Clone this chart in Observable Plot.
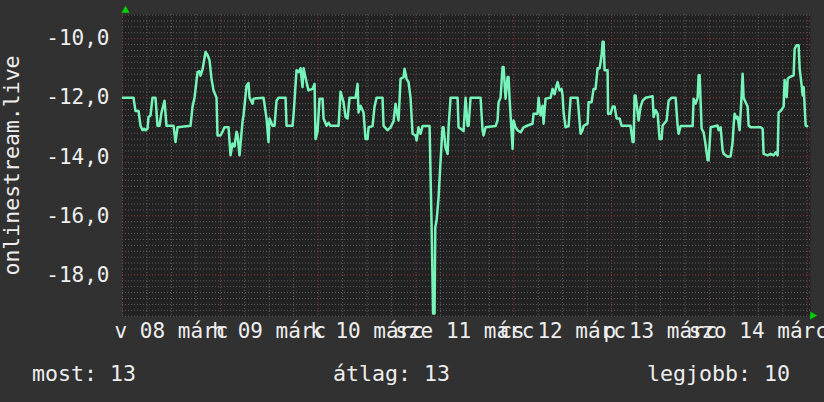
<!DOCTYPE html>
<html>
<head>
<meta charset="utf-8">
<script src="https://cdn.jsdelivr.net/npm/d3@7"></script>
<script src="https://cdn.jsdelivr.net/npm/@observablehq/plot@0.6"></script>
<style>
  html, body { margin: 0; padding: 0; background: #313131; }
  #wrap { width: 824px; height: 402px; overflow: hidden; position: relative; }
  #legend { position: relative; height: 50px; font: 21.6px "DejaVu Sans Mono", monospace; color: #eeeeee; }
  #legend span { position: absolute; top: 11px; line-height: 21px; white-space: pre; }
</style>
</head>
<body>
<div id="wrap"><div id="chart"></div><div id="legend"></div></div>
<script>
// hours since v 08 márc 00:00
const hours = [0.1,2.70,3.19,3.93,4.42,4.91,5.40,5.64,6.14,6.38,6.87,7.36,8.10,8.59,9.08,9.57,10.31,10.80,12.52,13.01,13.50,16.69,17.18,17.67,18.41,18.90,19.14,19.63,20.37,20.86,21.35,21.84,22.33,23.07,23.31,24.05,24.54,25.03,26.01,26.50,26.99,27.48,27.98,28.22,28.71,29.45,29.69,30.43,30.92,31.17,31.90,32.15,34.60,35.34,35.83,36.07,36.81,37.30,37.79,38.28,40.00,40.25,41.72,41.96,42.70,43.19,43.68,44.17,44.42,45.15,45.64,46.63,47.12,47.36,47.85,48.34,49.08,49.33,50.06,50.55,51.04,53.01,53.50,54.23,54.72,55.21,55.71,57.18,57.67,57.91,58.41,59.14,59.63,60.12,60.37,61.35,61.84,62.33,63.80,64.05,65.03,65.77,66.50,66.99,67.48,67.73,68.22,68.96,69.20,69.69,70.18,70.67,71.17,71.90,72.15,72.64,73.13,73.62,75.34,75.83,76.20,76.56,76.74,77.06,77.55,78.04,78.53,78.77,79.26,79.76,80.00,80.49,82.21,82.45,83.44,83.68,84.17,84.66,84.91,85.40,87.85,88.34,88.59,89.08,91.53,92.02,92.27,92.76,93.25,93.50,93.99,94.48,94.72,94.97,95.71,95.95,96.44,96.93,97.67,98.41,99.39,100.61,100.86,101.84,102.09,102.58,103.07,103.31,103.80,105.03,105.52,106.01,106.50,106.75,107.24,107.73,107.98,108.22,108.71,109.45,109.94,111.66,112.39,112.88,113.13,114.11,114.36,115.09,115.58,116.07,116.57,117.06,117.55,117.79,118.04,118.28,119.02,119.14,119.76,120.25,120.74,121.23,121.96,122.45,124.66,125.15,125.40,125.64,125.89,126.38,126.63,127.12,127.61,128.34,130.06,130.31,130.80,131.29,131.78,132.27,132.52,133.50,133.99,134.72,135.71,136.20,136.44,136.93,139.88,140.12,140.61,141.11,141.35,141.60,142.09,142.58,143.07,143.56,143.80,144.30,146.01,146.26,146.75,147.24,147.49,148.47,149.20,149.69,149.94,150.18,150.68,150.92,151.41,151.90,152.15,152.39,152.88,153.37,153.62,154.11,156.57,157.06,157.30,158.28,159.02,159.76,160.25,160.74,160.98,161.47,162.21,162.45,162.95,163.19,163.68,164.66,164.91,165.40,165.89,166.14,166.63,166.87,167.12,167.61,167.98];
const values = [-12.0,-12.0,-12.45,-12.45,-12.95,-13.1,-13.05,-13.1,-13.05,-12.65,-12.6,-12.0,-12.0,-12.95,-12.95,-12.5,-12.1,-12.95,-12.95,-13.5,-13.0,-12.95,-12.3,-12.0,-11.13,-11.1,-11.25,-11.05,-10.45,-10.55,-10.73,-11.36,-11.75,-12.0,-13.28,-13.28,-13.15,-13.0,-13.0,-13.95,-13.55,-13.65,-13.15,-13.25,-13.95,-12.8,-12.6,-11.6,-11.5,-12.0,-12.2,-12.03,-12.0,-12.7,-13.5,-12.7,-12.95,-12.95,-12.1,-12.0,-12.0,-12.95,-12.95,-12.6,-11.07,-11.13,-11.0,-11.64,-11.0,-11.47,-11.75,-11.7,-11.53,-13.4,-13.15,-12.03,-12.03,-12.7,-12.95,-12.85,-12.95,-12.95,-11.8,-12.15,-12.65,-12.7,-12.0,-12.0,-11.53,-12.5,-12.27,-12.5,-13.4,-13.4,-13.0,-12.96,-12.3,-12.0,-12.0,-12.95,-13.1,-13.0,-12.8,-12.2,-12.6,-12.77,-11.36,-11.3,-11.02,-11.36,-11.47,-12.0,-13.22,-13.28,-13.45,-13.0,-13.22,-12.96,-12.96,-16.27,-19.31,-19.31,-16.39,-16.16,-15.37,-14.13,-13.0,-13.0,-13.7,-13.9,-13.0,-12.0,-12.0,-13.0,-13.1,-13.13,-12.0,-12.95,-12.95,-12.0,-12.0,-13.1,-13.28,-13.0,-12.96,-12.77,-12.15,-12.0,-10.96,-10.96,-12.03,-11.3,-11.3,-12.03,-13.73,-12.77,-13.0,-13.1,-13.17,-13.0,-12.94,-12.88,-12.54,-12.54,-12.0,-12.6,-12.27,-12.88,-12.03,-12.0,-11.7,-11.88,-11.58,-11.47,-11.75,-11.7,-11.92,-12.49,-13.0,-12.96,-12.0,-12.0,-13.22,-13.1,-12.95,-12.88,-12.15,-12.15,-11.7,-11.7,-11.0,-11.0,-10.56,-10.1,-10.1,-11.07,-11.07,-12.54,-12.54,-12.3,-12.3,-12.7,-12.7,-12.95,-12.95,-13.5,-13.5,-11.92,-11.92,-12.49,-12.77,-12.3,-12.1,-12.0,-11.95,-12.65,-12.42,-12.54,-13.4,-13.4,-12.94,-12.77,-12.1,-12.0,-12.0,-12.95,-13.22,-12.96,-12.96,-12.03,-12.2,-12.0,-11.24,-11.24,-13.05,-13.17,-13.6,-14.12,-14.12,-13.0,-12.94,-13.1,-13.0,-13.78,-13.9,-14.0,-13.98,-13.5,-12.94,-12.54,-12.7,-12.65,-13.1,-11.92,-11.19,-12.0,-12.15,-12.3,-12.94,-13.0,-13.0,-13.05,-13.9,-13.95,-13.9,-13.95,-13.85,-13.95,-12.5,-12.45,-12.3,-11.4,-11.98,-11.36,-11.3,-11.24,-10.34,-10.22,-10.22,-11.02,-11.58,-11.92,-11.64,-12.94,-12.96];
const dayLabels = ["v 08 márc", "h 09 márc", "k 10 márc", "sze 11 márc", "cs 12 márc", "p 13 márc", "szo 14 márc"];
const yTicks = [-18, -16, -14, -12, -10];
const yAxisTitle = "onlinestream.live";
const legendLabels = ["most", "átlag", "legjobb"];
const legendValues = [13, 13, 10];

const xMax = 168.8;
const yDomain = [-19.41, -9.18];
const points = hours.map((h, i) => ({h, v: values[i]}));
const dayNoons = dayLabels.map((d, i) => 12 + 24 * i);
const majorX = d3.range(0, xMax, 24);
const minorX = d3.range(0, xMax, 6).filter(h => h % 24 !== 0);
const minorY = d3.range(-97, -45).filter(k => k % 10 !== 0).map(k => k * 0.2);

const chart = Plot.plot({
  width: 824,
  height: 352,
  marginLeft: 122,
  marginRight: 14,
  marginTop: 14,
  marginBottom: 36,
  style: {background: "transparent", color: "#eeeeee", fontFamily: "'DejaVu Sans Mono', monospace", fontSize: "21px", overflow: "hidden"},
  x: {domain: [0, xMax], ticks: dayNoons, tickSize: 0, tickPadding: 7, label: null,
      tickFormat: d => dayLabels[Math.round((d - 12) / 24)]},
  y: {domain: yDomain, ticks: yTicks, tickSize: 0, tickPadding: 13, label: null,
      tickFormat: d => d.toFixed(1).replace(".", ",")},
  marks: [
    Plot.frame({fill: "#222222", stroke: null}),
    Plot.ruleX(minorX, {stroke: "#606060", strokeDasharray: "1,2"}),
    Plot.ruleY(minorY, {stroke: "#606060", strokeDasharray: "1,2"}),
    Plot.ruleX(majorX, {stroke: "#8c3a3a", strokeDasharray: "1,2"}),
    Plot.ruleY(yTicks, {stroke: "#8c3a3a", strokeDasharray: "1,2"}),
    Plot.line(points, {x: "h", y: "v", stroke: "#76f4b9", strokeWidth: 2.5}),
    Plot.text([yAxisTitle], {text: d => d, frameAnchor: "left", textAnchor: "middle", rotate: -90, dx: -110, fill: "#eeeeee", fontSize: 21.5}),
    Plot.dot([0], {frameAnchor: "top-left", symbol: "triangle", r: 3, fill: "#00d000", stroke: null, dx: 3, dy: -4}),
    Plot.dot([0], {frameAnchor: "bottom-right", symbol: "triangle", r: 3, rotate: 90, fill: "#00d000", stroke: null, dx: 2, dy: -1})
  ]
});
document.getElementById("chart").appendChild(chart);

const legend = document.getElementById("legend");
const lefts = [32, 333, 647];
legendLabels.forEach((l, i) => {
  const s = document.createElement("span");
  s.textContent = `${l}: ${legendValues[i]}`;
  s.style.left = lefts[i] + "px";
  legend.appendChild(s);
});
</script>
</body>
</html>
